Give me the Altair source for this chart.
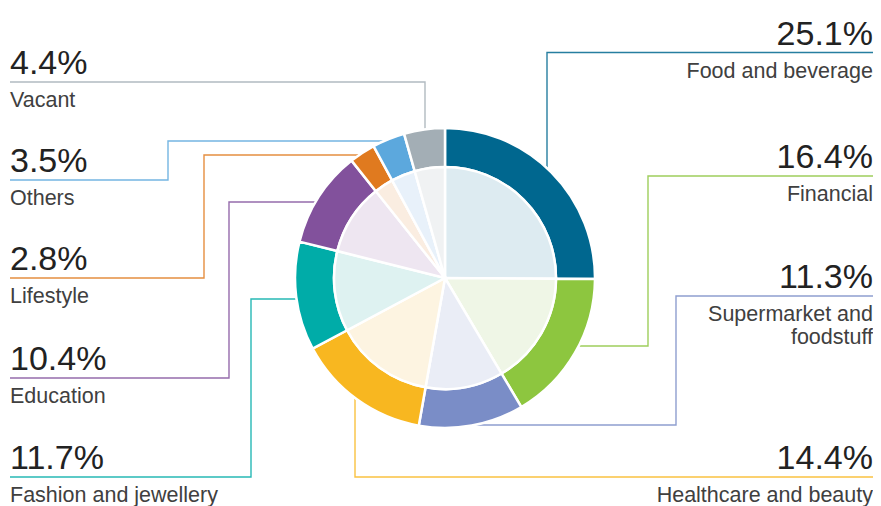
import altair as alt
import pandas as pd

# ---------------- data ----------------
categories = ["Food and beverage", "Financial", "Supermarket and foodstuff",
              "Healthcare and beauty", "Fashion and jewellery", "Education",
              "Lifestyle", "Others", "Vacant"]
values = [25.1, 16.4, 11.3, 14.4, 11.7, 10.4, 2.8, 3.5, 4.4]
display_labels = ["Food and beverage", "Financial", "Supermarket and\nfoodstuff",
                  "Healthcare and beauty", "Fashion and jewellery", "Education",
                  "Lifestyle", "Others", "Vacant"]

# ---------------- styles ----------------
ring_colors = ["#00678F", "#8DC63F", "#7A8DC7", "#F8B720", "#00ACA8",
               "#82519C", "#E07A1F", "#5CA8DD", "#A3AEB5"]
tint_colors = ["#DDEBF1", "#EFF6E6", "#EAEDF6", "#FDF4E1", "#DEF2F1",
               "#EEE6F1", "#FAEDE1", "#E8F1FA", "#F0F2F3"]

# ---------------- layout ----------------
sides = ["R", "R", "R", "R", "L", "L", "L", "L", "L"]
line_y = [52.5, 176, 296, 477, 477, 378, 278, 180, 82]
elbow_x = [547, 648, 676, 355, 251, 229, 204, 168, 425]
joint_y = [200, 346, 425, 380, 299, 202, 155, 141, 200]

CX, CY = 445, 278
R_OUT, R_IN = 150, 111
X0, X1 = 8, 873
Y0, Y1 = 8, 506
W, H = X1 - X0, Y1 - Y0
LEFT_X, RIGHT_X = 10, 873
FONT = "Liberation Sans"

xs = alt.Scale(domain=[X0, X1], range=[0, W])
ys = alt.Scale(domain=[Y0, Y1], range=[0, H])
color_ring = alt.Scale(domain=categories, range=ring_colors)
color_tint = alt.Scale(domain=categories, range=tint_colors)

x_center = alt.XDatum(CX, type="quantitative", scale=xs, axis=None)
y_center = alt.YDatum(CY, type="quantitative", scale=ys, axis=None)

pie_df = pd.DataFrame({"cat": categories, "val": values, "k": list(range(len(categories)))})

# connectors
rows = []
for i, c in enumerate(categories):
    start = LEFT_X if sides[i] == "L" else X1
    pts = [(start, line_y[i]), (elbow_x[i], line_y[i]), (elbow_x[i], joint_y[i]), (CX, joint_y[i])]
    for j, (px, py) in enumerate(pts):
        rows.append({"cat": c, "px": px, "py": py, "j": j})
conn_df = pd.DataFrame(rows)

connectors = alt.Chart(conn_df).mark_line(strokeWidth=1.4, strokeOpacity=0.85).encode(
    x=alt.X("px:Q", scale=xs, axis=None),
    y=alt.Y("py:Q", scale=ys, axis=None),
    detail="cat:N",
    order="j:Q",
    color=alt.Color("cat:N", scale=color_ring, legend=None),
)

disc = alt.Chart(pd.DataFrame({"a": [0]})).mark_arc(
    outerRadius=R_OUT + 1, theta=0, theta2=6.2832, color="white"
).encode(x=x_center, y=y_center)

ring = alt.Chart(pie_df).mark_arc(
    outerRadius=R_OUT, innerRadius=R_IN, stroke="white", strokeWidth=2.5
).encode(
    theta=alt.Theta("val:Q", stack=True),
    order=alt.Order("k:Q"),
    color=alt.Color("cat:N", scale=color_ring, legend=None),
    x=x_center, y=y_center,
)

inner = alt.Chart(pie_df).mark_arc(
    outerRadius=R_IN, innerRadius=0, stroke="white", strokeWidth=2.5
).encode(
    theta=alt.Theta("val:Q", stack=True),
    order=alt.Order("k:Q"),
    fill=alt.Fill("cat:N", scale=color_tint, legend=None),
    x=x_center, y=y_center,
)

# texts
trows = []
for i, c in enumerate(categories):
    tx = LEFT_X if sides[i] == "L" else RIGHT_X
    trows.append({"cat": c, "side": sides[i], "tx": tx,
                  "py": line_y[i] - 8, "ly": line_y[i] + 25,
                  "pct": f"{values[i]:.1f}%", "lab": display_labels[i]})
txt_df = pd.DataFrame(trows)

layers = [connectors, disc, ring, inner]
for side, align in [("L", "left"), ("R", "right")]:
    sub = txt_df[txt_df["side"] == side]
    layers.append(alt.Chart(sub).mark_text(
        align=align, baseline="alphabetic", font=FONT, fontSize=34,
        color="#222222"
    ).encode(x=alt.X("tx:Q", scale=xs, axis=None), y=alt.Y("py:Q", scale=ys, axis=None), text="pct:N"))
    layers.append(alt.Chart(sub).mark_text(
        align=align, baseline="alphabetic", font=FONT, fontSize=21.5,
        color="#404040", lineBreak="\n", lineHeight=23
    ).encode(x=alt.X("tx:Q", scale=xs, axis=None), y=alt.Y("ly:Q", scale=ys, axis=None), text="lab:N"))

chart = alt.layer(*layers).properties(
    width=W, height=H, padding=0,
    autosize=alt.AutoSizeParams(type="none"),
).configure_view(stroke=None)

chart.save("out.html", embed_options={"renderer": "svg", "actions": False})
